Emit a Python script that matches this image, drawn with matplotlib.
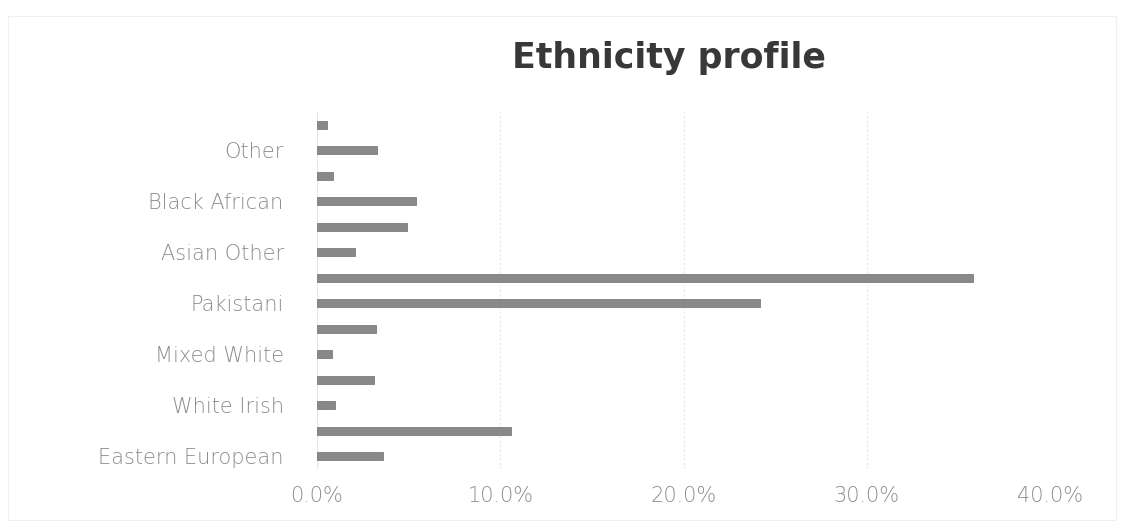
import matplotlib
matplotlib.use("Agg")
import matplotlib.pyplot as plt
from matplotlib.ticker import FuncFormatter
from matplotlib.patches import Rectangle

# Categories from bottom to top (only every other label is shown in the chart)
categories = ["Eastern European", "", "White Irish", "", "Mixed White", "",
              "Pakistani", "", "Asian Other", "", "Black African", "", "Other", ""]
values = [3.6, 10.6, 1.0, 3.1, 0.8, 3.2, 24.2, 35.8, 2.1, 4.9, 5.4, 0.9, 3.3, 0.55]
xticks = [0, 10, 20, 30, 40]
title = "Ethnicity profile"

fig = plt.figure(figsize=(11.24, 5.28), dpi=100)
W, H = 1124, 528
# axes position in pixels: left 317, right 1050, top 112, bottom 469
ax = fig.add_axes([317 / W, 1 - 469 / H, (1050 - 317) / W, (469 - 112) / H])

y = list(range(len(categories)))
ax.barh(y, values, height=0.33, color="#898989", edgecolor="#7c7c7c", linewidth=0.6, zorder=3)

ax.set_xlim(0, 40)
ax.set_ylim(-0.5, len(categories) - 0.5)
ax.set_xticks(xticks)
ax.xaxis.set_major_formatter(FuncFormatter(lambda v, p: f"{v:.1f}%"))
ax.set_yticks(y)
ax.set_yticklabels(categories)

for lab in ax.get_yticklabels() + ax.get_xticklabels():
    lab.set_color("#8c8c8c")
    lab.set_fontsize(15)
    lab.set_fontfamily("DejaVu Sans")
    lab.set_fontweight("light")

ax.tick_params(axis="y", length=0, pad=24)
ax.tick_params(axis="x", length=0, pad=12)

ax.grid(axis="x", color="#e6e6e6", linewidth=0.8, linestyle=(0, (2, 2)), zorder=0)
ax.axvline(0, color="#e6e6e6", linewidth=0.8, zorder=1)
for s in ax.spines.values():
    s.set_visible(False)

fig.text(669 / W, 1 - 58 / H, title, ha="center", va="center",
         fontsize=25, fontweight="bold", color="#383838", family="DejaVu Sans")

# faint chart frame
fig.patches.append(Rectangle((8 / W, 8 / H), 1 - 16 / W, 1 - 24 / H, transform=fig.transFigure,
                             fill=False, edgecolor="#f0f0f0", linewidth=0.8))

fig.savefig("out.png", dpi=100, facecolor="white")
